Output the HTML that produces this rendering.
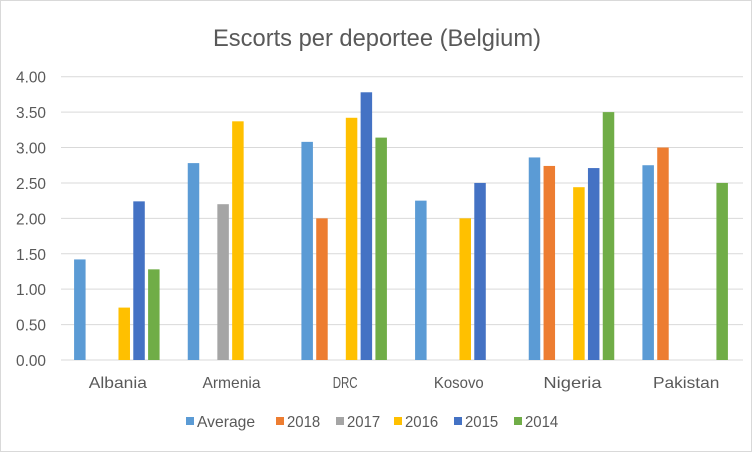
<!DOCTYPE html>
<html><head><meta charset="utf-8"><style>
body{margin:0;background:#fff;font-family:"Liberation Sans",sans-serif}
#c{position:absolute;left:0;top:0;width:750px;height:450px;border:1px solid #d9d9d9}
</style></head><body>
<div id="c">
<svg id="s" width="752" height="452" xmlns="http://www.w3.org/2000/svg"></svg>
</div>
<script>
const categories=["Albania","Armenia","DRC","Kosovo","Nigeria","Pakistan"];
const seriesNames=["Average","2018","2017","2016","2015","2014"];
const avg=[1.42,2.78,3.08,2.25,2.86,2.75];
const y2018=[0,0,2.0,0,2.74,3.0];
const y2017=[0,2.2,0,0,0,0];
const y2016=[0.74,3.37,3.42,2.0,2.44,0];
const y2015=[2.24,0,3.78,2.5,2.71,0];
const y2014=[1.28,0,3.14,0,3.5,2.5];
const yTicks=["0.00","0.50","1.00","1.50","2.00","2.50","3.00","3.50","4.00"];
const series=[avg,y2018,y2017,y2016,y2015,y2014];
const colors=["#5b9bd5","#ed7d31","#a5a5a5","#ffc000","#4472c4","#70ad47"];
const s=document.getElementById('s');
const NS="http://www.w3.org/2000/svg";
const x0=60,x1=742,yb=359,yt=75.7,ymax=4;
const Y=v=>yb-(v/ymax)*(yb-yt);
const cw=(x1-x0)/categories.length;
const bw=11.5,step=14.8;
function mk(t,a){const e=document.createElementNS(NS,t);for(const k in a)e.setAttribute(k,a[k]);s.appendChild(e);return e;}
let t=mk('text',{x:376,y:45,'text-anchor':'middle','font-size':24,fill:'#595959',textLength:328,lengthAdjust:'spacingAndGlyphs'});


t.textContent='Escorts per deportee (Belgium)';
yTicks.forEach(l=>{const v=parseFloat(l);
 const g=mk('line',{x1:x0,x2:x1,y1:Y(v),y2:Y(v),stroke:'#d9d9d9','stroke-width':1});
 
 
 const tx=mk('text',{x:45,y:Y(v)+6,'text-anchor':'end','font-size':16,fill:'#595959',textLength:30,lengthAdjust:'spacingAndGlyphs'});
 
 
 tx.textContent=l;});
categories.forEach((c,i)=>{const cx=x0+cw*(i+0.5);
 series.forEach((arr,j)=>{const v=arr[i];if(!v)return;
  const bx=cx-2.5*step-bw/2+j*step-1;
  const r=mk('rect',{x:bx,y:Y(v),width:bw,height:yb-Y(v),fill:colors[j]});
  
  });
 const tx=mk('text',{x:cx,y:387,'text-anchor':'middle','font-size':16,fill:'#595959',textLength:c.length*8.3,lengthAdjust:'spacingAndGlyphs'});
 
 
 tx.textContent=c;});
const lx=[185,275,335,393,453,513];
seriesNames.forEach((n,j)=>{
 const r=mk('rect',{x:lx[j],y:416,width:8,height:8,fill:colors[j]});
 
 
 const tx=mk('text',{x:lx[j]+11,y:426,'font-size':16,fill:'#595959',textLength:n.length*8.3,lengthAdjust:'spacingAndGlyphs'});
 
 
 tx.textContent=n;});
</script>
</body></html>
